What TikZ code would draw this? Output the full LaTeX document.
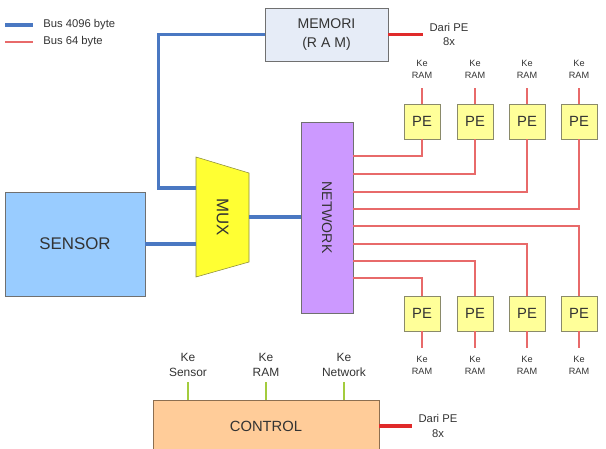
\documentclass[tikz,border=0pt]{standalone}
\usepackage{fontspec}
\setmainfont{Liberation Sans}
\definecolor{boxline}{HTML}{707070}
\definecolor{textgray}{HTML}{333333}
\definecolor{memfill}{HTML}{E6ECF7}
\definecolor{sensfill}{HTML}{99CCFF}
\definecolor{muxfill}{HTML}{FFFF33}
\definecolor{muxline}{HTML}{8C8C3C}
\definecolor{netfill}{HTML}{CC99FF}
\definecolor{pefill}{HTML}{FFFF99}
\definecolor{peline}{HTML}{8A8A6A}
\definecolor{ctlfill}{HTML}{FFCC99}
\definecolor{ctlline}{HTML}{8C6E50}
\definecolor{buscol}{HTML}{4A78C2}
\definecolor{linkred}{HTML}{E86A6A}
\definecolor{pered}{HTML}{E02A2A}
\definecolor{ctlgreen}{HTML}{A3CC3D}
\begin{document}
\begin{tikzpicture}
	    [x=0.025cm, y=-0.025cm,
	     box/.style={draw=boxline, text=textgray, inner sep=0pt, align=center},
	     pe/.style={box, fill=pefill, draw=peline, minimum width=0.9cm, minimum height=0.875cm, font=\fontsize{10.5}{12}\selectfont},
	     lbl/.style={text=textgray, align=center, inner sep=0pt},
	     bus/.style={buscol, line width=2.4pt},
	     link/.style={linkred, line width=1.1pt},
	     frompe/.style={pered, line width=2.8pt},
	     tocontrol/.style={ctlgreen, line width=1.6pt}]
	    \clip (0,0) rectangle (606,448);
	    % \draw[step=50,gray,very thin] (0,0) grid (606,448);
	    % legend
	    \node[lbl, anchor=west, font=\fontsize{8}{10}\selectfont] (leg4096) at (43,25) {Bus 4096 byte};
	    \node[lbl, anchor=west, font=\fontsize{8}{10}\selectfont] (leg64)   at (43,42) {Bus 64 byte};
	    \coordinate (legbus)  at (5,25);
	    \coordinate (leglink) at (5,42);
	    \draw[bus, line width=2.8pt, shorten >=0.25cm] (legbus) -- (leg4096.west);
	    \draw[link, shorten >=0.25cm] (leglink) -- (leg64.west);
	    % main blocks
	    \node[box, fill=memfill, minimum width=3.075cm, minimum height=1.325cm, font=\fontsize{10}{13.5}\selectfont] (mem) at (326.5,34.5) {MEMORI\\(R A M)};
	    \node[box, fill=sensfill, minimum width=3.5cm, minimum height=2.6cm, font=\fontsize{12}{14}\selectfont] (sensor) at (75,244) {SENSOR};
	    \draw[draw=muxline, fill=muxfill] (196,157) -- (249,173) -- (249,262) -- (196,277) -- cycle;
	    \node[minimum width=1.325cm, minimum height=3cm, inner sep=0pt, outer sep=0pt] (mux) at (222.5,217) {};
	    \node[text=textgray, rotate=-90, font=\fontsize{12}{14}\selectfont] (muxtext) at (mux) {MUX};
	    \node[box, fill=netfill, minimum width=1.3cm, minimum height=4.775cm] (net) at (327,217.5) {};
	    \node[text=textgray, rotate=-90, font=\fontsize{10}{12}\selectfont] (nettext) at (net) {NETWORK};
	    \node[box, fill=ctlfill, draw=ctlline, minimum width=5.65cm, minimum height=1.3cm, font=\fontsize{10.5}{12}\selectfont] (ctl) at (266,426) {CONTROL};
	    % processing elements
	    \foreach \x [count=\i] in {422,475,527,579} {
	        \node[pe] (pt\i) at (\x,121.5) {PE};
	        \node[pe] (pb\i) at (\x,313.5) {PE};
	        \node[lbl, font=\fontsize{6.5}{8.5}\selectfont] (rt\i) at (\x,69) {Ke\\RAM};
	        \node[lbl, font=\fontsize{6.5}{8.5}\selectfont] (rb\i) at (\x,365) {Ke\\RAM};
	        \draw[link] (pt\i.north) -- ++(0,-16);
	        \draw[link] (pb\i.south) -- ++(0,17);
	    }
	    \foreach \y/\i in {156/1, 174/2, 192/3, 209/4}
	        \draw[link] (net.east |- 0,\y) -| (pt\i.south);
	    \foreach \y/\i in {226/4, 244/3, 261/2, 278/1}
	        \draw[link] (net.east |- 0,\y) -| (pb\i.north);
	    % buses
	    \draw[bus] (mem.west) -- ++(-106,0) |- (mux.west |- 0,188);
	    \draw[bus] (sensor.east) -- (mux.west |- sensor.east);
	    \draw[bus] (mux.east) -- (net.west |- mux.east);
	    % from PE
	    \node[lbl, font=\fontsize{8}{10.5}\selectfont] (darimem) at (449,34.5) {Dari PE\\8x};
	    \node[lbl, font=\fontsize{8}{10.5}\selectfont] (darictl) at (438,426) {Dari PE\\8x};
	    \draw[frompe, shorten >=0.17cm] (mem.east) -- (mem.east -| darimem.west);
	    \draw[frompe, shorten >=0.15cm] (ctl.east) -- (ctl.east -| darictl.west);
	    % control outputs
	    \node[lbl, font=\fontsize{8.5}{11}\selectfont] (kesensor) at (188,365) {Ke\\Sensor};
	    \node[lbl, font=\fontsize{8.5}{11}\selectfont] (keram)    at (266,365) {Ke\\RAM};
	    \node[lbl, font=\fontsize{8.5}{11}\selectfont] (kenet)    at (344,365) {Ke\\Network};
	    \foreach \k in {kesensor, keram, kenet}
	        \draw[tocontrol] (ctl.north -| \k) -- ++(0,-18);
	\end{tikzpicture}
\end{document}
